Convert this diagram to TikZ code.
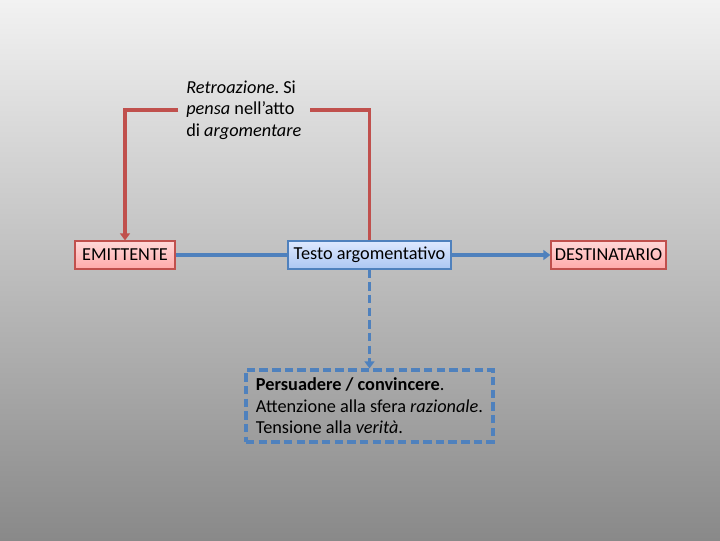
\documentclass[tikz,border=0pt]{standalone}
\usepackage{fontspec}
\setmainfont{Carlito}
\usetikzlibrary{arrows.meta}
\definecolor{linkblue}{HTML}{4F81BD}
\definecolor{feedred}{HTML}{C0504D}
\definecolor{bgtop}{HTML}{F2F2F2}
\definecolor{bgbottom}{HTML}{898989}
\definecolor{pinktop}{HTML}{FFD8D8}
\definecolor{pinkbottom}{HTML}{FFAAAA}
\definecolor{pinkborder}{HTML}{C0504D}
\definecolor{bluetop}{HTML}{DEE9FF}
\definecolor{bluebottom}{HTML}{ABC6F2}
\frenchspacing

\begin{document}
\begin{tikzpicture}[
    x=0.025cm, y=-0.025cm,
    font=\fontsize{13}{15.3}\selectfont,
    party/.style={rectangle, draw=pinkborder, line width=0.8pt, top color=pinktop, bottom color=pinkbottom, minimum height=0.7cm, inner sep=2pt},
    message/.style={rectangle, draw=linkblue, line width=0.8pt, top color=bluetop, bottom color=bluebottom, minimum height=0.7cm, inner sep=2pt},
    goal/.style={rectangle, draw=linkblue, dash pattern=on 6pt off 3pt, line width=2.2pt, minimum width=6.175cm, minimum height=1.8cm, align=left, inner sep=0.175cm},
    flow/.style={line width=2.2pt, color=linkblue},
    feedback/.style={line width=2.2pt, color=feedred},
    tip/.style={-{Triangle[length=5pt,width=7pt]}}
]
    % background
    \shade[top color=bgtop, bottom color=bgbottom] (0,0) rectangle (720,540);

    \node[party, minimum width=2.5cm] (emit) at (125,255) {EMITTENTE};
    \node[message, minimum width=4.075cm] (testo) at (369.5,255) {Testo argomentativo};
    \node[party, minimum width=2.875cm] (dest) at (608.5,255) {DESTINATARIO};
    \node[anchor=west, align=left, inner sep=0.2cm] (retro) at (178,110)
        {\textit{Retroazione}. Si\\ \textit{pensa} nell’atto\\ di \textit{argomentare}};
    \node[goal] (scopo) at (369.5,406)
        {\textbf{Persuadere / convincere}.\\ Attenzione alla sfera \textit{razionale}.\\ Tensione alla \textit{verità}.};

    \draw[flow] (emit) -- (testo);
    \draw[flow, tip] (testo) -- (dest);
    \draw[flow, tip, dash pattern=on 6pt off 3pt] (testo) -- (scopo);
    \draw[feedback] (testo.north) |- (retro.east);
    \draw[feedback, tip] (retro.west) -| (emit.north);
\end{tikzpicture}
\end{document}
